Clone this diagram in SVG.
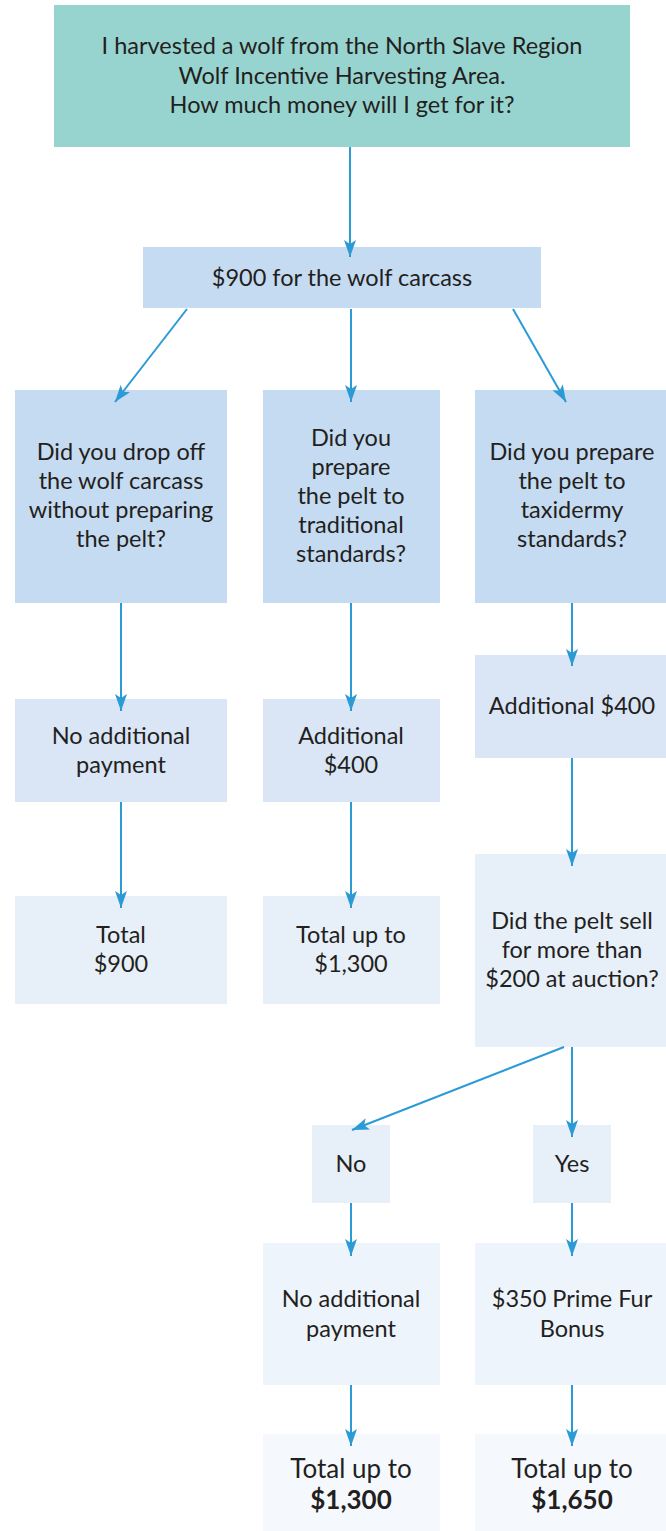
<svg xmlns="http://www.w3.org/2000/svg" width="666" height="1531" viewBox="0 0 666 1531">
<style>
text{font-family:Lato,"Open Sans","Liberation Sans",sans-serif;font-size:23.5px;fill:#231f20;text-anchor:middle}
.big{font-size:26px}
.b{font-weight:bold}
.c0{fill:#97d4cf}
.c1{fill:#c5dbf1}
.c2{fill:#dae6f6}
.c3{fill:#e7eff9}
.c4{fill:#eef4fb}
.c5{fill:#f5f9fd}
.con line{stroke:#2b9ad5;stroke-width:2;marker-end:url(#ah)}
</style>
<defs>
<marker id="ah" markerUnits="userSpaceOnUse" markerWidth="17" markerHeight="12" viewBox="0 0 17 12" refX="17" refY="6" orient="auto">
<path d="M0,0 L17,6 L0,12 L4,6 Z" fill="#2b9ad5"/>
</marker>
</defs>
<rect width="666" height="1531" fill="#ffffff"/>
<g id="start">
<rect class="c0" x="54" y="5" width="576" height="142"/>
<text x="342" y="54">I harvested a wolf from the North Slave Region</text>
<text x="342" y="84">Wolf Incentive Harvesting Area.</text>
<text x="342" y="113">How much money will I get for it?</text>
</g>
<g id="carcass">
<rect class="c1" x="143" y="247" width="398" height="61"/>
<text x="342" y="286">$900 for the wolf carcass</text>
</g>
<g id="q-nopelt">
<rect class="c1" x="15" y="390" width="212" height="213"/>
<text x="121" y="460">Did you drop off</text>
<text x="121" y="489">the wolf carcass</text>
<text x="121" y="518">without preparing</text>
<text x="121" y="547">the pelt?</text>
</g>
<g id="q-traditional">
<rect class="c1" x="263" y="390" width="177" height="213"/>
<text x="351" y="446">Did you</text>
<text x="351" y="475">prepare</text>
<text x="351" y="504">the pelt to</text>
<text x="351" y="533">traditional</text>
<text x="351" y="562">standards?</text>
</g>
<g id="q-taxidermy">
<rect class="c1" x="475" y="390" width="191" height="213"/>
<text x="572" y="460">Did you prepare</text>
<text x="572" y="489">the pelt to</text>
<text x="572" y="518">taxidermy</text>
<text x="572" y="547">standards?</text>
</g>
<g id="no-add-1">
<rect class="c2" x="15" y="699" width="212" height="103"/>
<text x="121" y="744">No additional</text>
<text x="121" y="773">payment</text>
</g>
<g id="add-400-trad">
<rect class="c2" x="263" y="699" width="177" height="103"/>
<text x="351" y="744">Additional</text>
<text x="351" y="773">$400</text>
</g>
<g id="add-400-taxi">
<rect class="c2" x="475" y="655" width="191" height="103"/>
<text x="572" y="714">Additional $400</text>
</g>
<g id="total-900">
<rect class="c3" x="15" y="896" width="212" height="108"/>
<text x="121" y="943">Total</text>
<text x="121" y="972">$900</text>
</g>
<g id="total-1300-trad">
<rect class="c3" x="263" y="896" width="177" height="108"/>
<text x="351" y="943">Total up to</text>
<text x="351" y="972">$1,300</text>
</g>
<g id="q-auction">
<rect class="c3" x="475" y="854" width="191" height="193"/>
<text x="572" y="929">Did the pelt sell</text>
<text x="572" y="958">for more than</text>
<text x="572" y="987">$200 at auction?</text>
</g>
<g id="no">
<rect class="c3" x="312" y="1125" width="78" height="78"/>
<text x="351" y="1172">No</text>
</g>
<g id="yes">
<rect class="c3" x="533" y="1125" width="78" height="78"/>
<text x="572" y="1172">Yes</text>
</g>
<g id="no-add-2">
<rect class="c4" x="263" y="1243" width="177" height="142"/>
<text x="351" y="1307">No additional</text>
<text x="351" y="1337">payment</text>
</g>
<g id="bonus">
<rect class="c4" x="475" y="1243" width="191" height="142"/>
<text x="572" y="1307">$350 Prime Fur</text>
<text x="572" y="1337">Bonus</text>
</g>
<g id="total-1300">
<rect class="c5" x="263" y="1434" width="177" height="97"/>
<text class="big" x="351" y="1478">Total up to</text>
<text class="big b" x="351" y="1509">$1,300</text>
</g>
<g id="total-1650">
<rect class="c5" x="475" y="1434" width="191" height="97"/>
<text class="big" x="572" y="1478">Total up to</text>
<text class="big b" x="572" y="1509">$1,650</text>
</g>
<g id="connectors" class="con">
<line x1="350" y1="147" x2="350" y2="257"/>
<line x1="187" y1="309" x2="115" y2="402"/>
<line x1="351" y1="309" x2="351" y2="402"/>
<line x1="513" y1="309" x2="566" y2="402"/>
<line x1="121" y1="603" x2="121" y2="711"/>
<line x1="351" y1="603" x2="351" y2="711"/>
<line x1="572" y1="603" x2="572" y2="666"/>
<line x1="121" y1="802" x2="121" y2="908"/>
<line x1="351" y1="802" x2="351" y2="908"/>
<line x1="572" y1="758" x2="572" y2="866"/>
<line x1="564" y1="1047" x2="352" y2="1130"/>
<line x1="572" y1="1047" x2="572" y2="1137"/>
<line x1="351" y1="1203" x2="351" y2="1256"/>
<line x1="572" y1="1203" x2="572" y2="1256"/>
<line x1="351" y1="1385" x2="351" y2="1446"/>
<line x1="572" y1="1385" x2="572" y2="1446"/>
</g>
</svg>
